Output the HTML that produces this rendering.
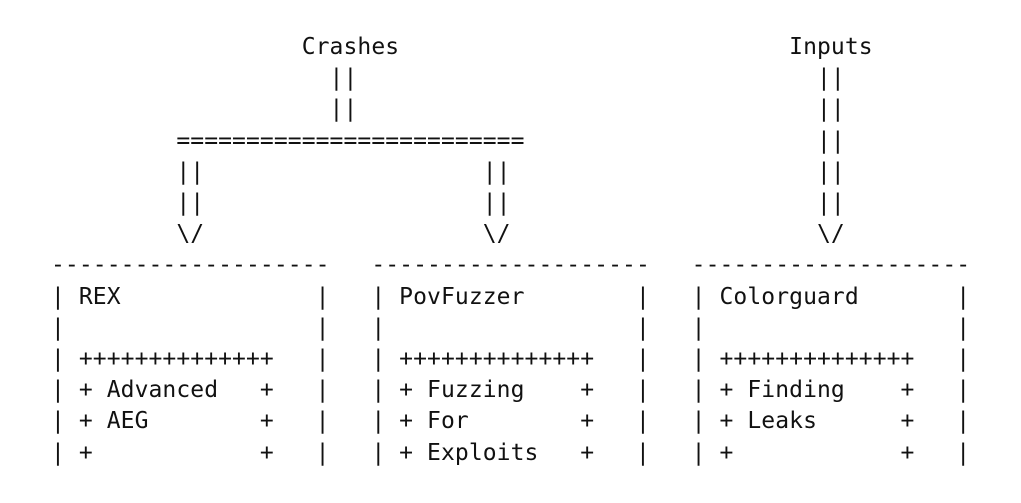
<!DOCTYPE html>
<html><head><meta charset="utf-8"><style>
html,body{margin:0;padding:0;background:#fff;width:1021px;height:503px;overflow:hidden}
pre{position:absolute;left:51px;top:32px;margin:0;font-family:"DejaVu Sans Mono","Liberation Mono",monospace;font-size:23px;line-height:31.2px;letter-spacing:0.08px;color:#111}
</style></head><body><pre>                  Crashes                            Inputs
                    ||                                 ||
                    ||                                 ||
         =========================                     ||
         ||                    ||                      ||
         ||                    ||                      ||
         \/                    \/                      \/
--------------------   --------------------   --------------------
| REX              |   | PovFuzzer        |   | Colorguard       |
|                  |   |                  |   |                  |
| ++++++++++++++   |   | ++++++++++++++   |   | ++++++++++++++   |
| + Advanced   +   |   | + Fuzzing    +   |   | + Finding    +   |
| + AEG        +   |   | + For        +   |   | + Leaks      +   |
| +            +   |   | + Exploits   +   |   | +            +   |</pre></body></html>
